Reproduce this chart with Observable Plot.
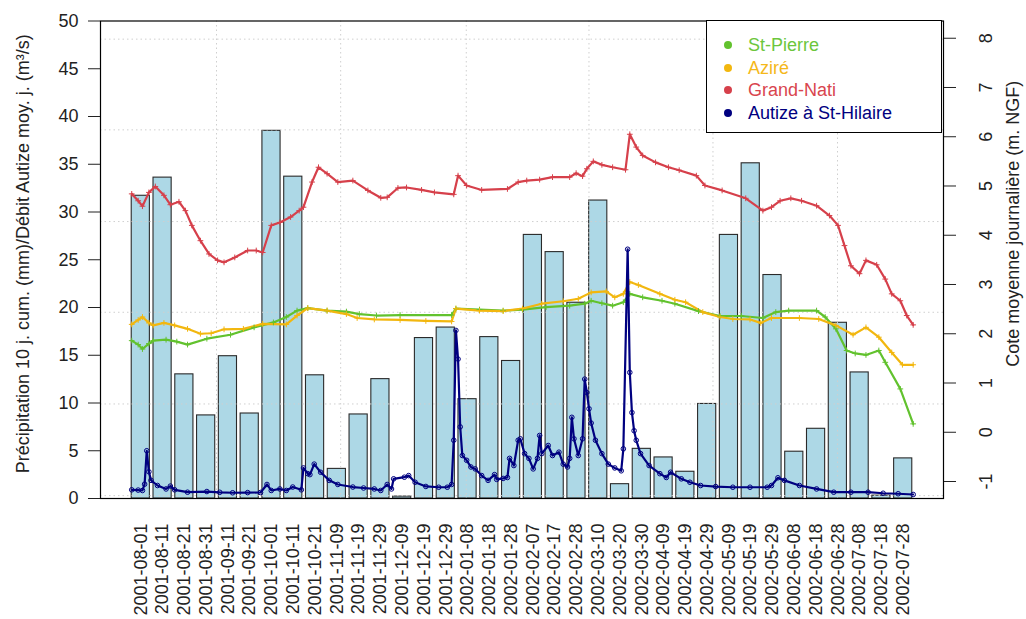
<!DOCTYPE html>
<html>
<head>
<meta charset="utf-8">
<script src="https://cdn.jsdelivr.net/npm/d3@7"></script>
<script src="https://cdn.jsdelivr.net/npm/@observablehq/plot@0.6"></script>
<style>
  html, body { margin: 0; padding: 0; background: #fff; }
  #wrap { position: relative; width: 1026px; height: 619px; font-family: "Liberation Sans", Arial, sans-serif; }
  #legend { position: absolute; left: 706px; top: 20px; width: 236px; height: 113px; background: #fff; border: 1px solid #000; box-sizing: border-box; }
  .li { position: absolute; left: 0; height: 22px; font-size: 18px; line-height: 22px; white-space: nowrap; }
  .li span.dot { position: absolute; left: 17px; top: 7px; width: 8px; height: 8px; border-radius: 50%; }
  .li span.lab { position: absolute; left: 41px; top: 0; }
</style>
</head>
<body>
<div id="wrap"></div>
<script>
// ---- Data ----
const barDates = ["2001-08-01","2001-08-11","2001-08-21","2001-08-31","2001-09-11","2001-09-21","2001-10-01","2001-10-11","2001-10-21","2001-11-09","2001-11-19","2001-11-29","2001-12-09","2001-12-19","2001-12-29","2002-01-08","2002-01-18","2002-01-28","2002-02-07","2002-02-17","2002-02-28","2002-03-10","2002-03-20","2002-03-30","2002-04-09","2002-04-19","2002-04-29","2002-05-09","2002-05-19","2002-05-29","2002-06-08","2002-06-18","2002-06-28","2002-07-08","2002-07-18","2002-07-28"];
const precip10j = [31.7,33.6,13.0,8.7,14.9,8.9,38.5,33.7,12.9,3.1,8.8,12.5,0.2,16.8,17.9,10.4,16.9,14.4,27.6,25.8,20.5,31.2,1.5,5.2,4.3,2.8,9.9,27.6,35.1,23.4,4.9,7.3,18.4,13.2,0.3,4.2];

// daily series: [days since 2001-08-01, value]
const stPierre = [[0,1.86],[3,1.78],[5,1.69],[8,1.80],[10,1.86],[16,1.88],[21,1.84],[26,1.78],[35,1.90],[46,1.98],[57,2.13],[66,2.23],[72,2.34],[77,2.47],[82,2.52],[91,2.47],[100,2.45],[106,2.40],[114,2.37],[125,2.38],[149,2.38],[151,2.51],[162,2.49],[173,2.47],[182,2.49],[193,2.54],[204,2.57],[211,2.61],[214,2.67],[219,2.62],[224,2.57],[229,2.64],[232,2.81],[238,2.74],[247,2.67],[253,2.61],[264,2.46],[274,2.36],[284,2.36],[294,2.32],[300,2.44],[306,2.47],[319,2.47],[323,2.34],[328,2.10],[333,1.66],[337,1.60],[342,1.57],[348,1.66],[351,1.42],[358,0.88],[364,0.17]];
const azire = [[0,2.19],[3,2.28],[5,2.34],[8,2.22],[10,2.17],[15,2.22],[20,2.17],[26,2.10],[32,2.00],[37,2.01],[43,2.09],[52,2.10],[61,2.20],[72,2.19],[77,2.37],[82,2.52],[91,2.47],[100,2.40],[105,2.32],[113,2.29],[125,2.28],[137,2.26],[149,2.25],[151,2.51],[162,2.47],[173,2.46],[182,2.51],[191,2.61],[201,2.66],[208,2.71],[214,2.84],[221,2.86],[225,2.74],[229,2.81],[232,3.05],[236,2.99],[246,2.81],[253,2.69],[258,2.64],[266,2.44],[274,2.34],[280,2.30],[288,2.29],[293,2.22],[298,2.32],[311,2.32],[320,2.30],[328,2.17],[336,1.98],[342,2.13],[348,1.93],[354,1.62],[359,1.37],[364,1.37]];
const grandNati = [[0,4.84],[3,4.70],[5,4.59],[8,4.87],[11,4.99],[15,4.81],[18,4.62],[22,4.68],[25,4.50],[28,4.20],[32,3.89],[36,3.62],[40,3.49],[43,3.45],[48,3.55],[54,3.69],[58,3.69],[61,3.65],[65,4.20],[69,4.26],[74,4.37],[78,4.50],[80,4.57],[84,5.08],[87,5.38],[91,5.25],[96,5.08],[103,5.11],[110,4.91],[116,4.76],[119,4.77],[124,4.96],[128,4.97],[135,4.92],[141,4.87],[150,4.83],[152,5.21],[156,5.01],[163,4.92],[175,4.94],[180,5.08],[184,5.11],[190,5.13],[196,5.18],[204,5.18],[207,5.26],[210,5.20],[212,5.35],[215,5.50],[219,5.43],[224,5.38],[230,5.33],[232,6.05],[235,5.79],[238,5.62],[244,5.48],[250,5.38],[255,5.32],[263,5.21],[267,5.01],[275,4.91],[286,4.75],[294,4.50],[298,4.57],[302,4.70],[307,4.75],[312,4.70],[319,4.60],[325,4.40],[329,4.20],[332,3.79],[335,3.38],[339,3.22],[342,3.49],[347,3.40],[351,3.11],[354,2.81],[358,2.67],[361,2.37],[364,2.18]];
const autize = [[0,0.91],[3,0.88],[5,0.84],[6,1.5],[7,5.0],[8,2.8],[9,1.9],[12,1.36],[16,1.0],[18,1.3],[20,0.91],[26,0.66],[35,0.73],[41,0.65],[47,0.6],[54,0.62],[60,0.63],[63,1.47],[65,0.84],[69,1.0],[72,0.84],[75,1.2],[79,0.91],[80,3.2],[82,2.6],[83,2.5],[85,3.6],[88,2.75],[92,1.9],[96,1.47],[103,1.2],[108,1.1],[113,1.0],[116,0.84],[119,1.47],[121,1.0],[122,2.06],[127,2.23],[129,2.4],[132,1.7],[137,1.26],[143,1.18],[147,1.18],[149,1.47],[150,6.1],[151,17.6],[152,14.6],[153,7.5],[154,4.5],[156,4.0],[158,3.3],[160,3.1],[163,2.4],[166,1.9],[169,2.5],[170,2.0],[173,2.1],[175,2.2],[176,4.2],[178,3.45],[180,6.1],[181,6.25],[183,4.7],[185,4.2],[187,3.1],[189,4.2],[190,6.6],[191,4.7],[194,5.55],[196,4.5],[199,4.85],[201,3.6],[203,3.3],[204,4.2],[205,8.5],[206,6.25],[208,4.5],[210,6.25],[211,12.5],[212,11.1],[213,9.4],[214,7.9],[216,6.1],[219,4.7],[222,3.6],[225,3.2],[228,2.9],[229,5.2],[231,26.1],[232,13.2],[233,9.0],[234,7.1],[235,6.1],[237,4.7],[241,3.45],[246,2.6],[249,2.2],[251,2.75],[256,2.06],[260,1.7],[265,1.36],[272,1.25],[280,1.18],[288,1.18],[296,1.18],[298,1.36],[301,2.17],[304,1.9],[311,1.36],[319,1.0],[327,0.66],[335,0.66],[343,0.66],[350,0.55],[357,0.5],[364,0.42]];

const leftTicks = [0,5,10,15,20,25,30,35,40,45,50];
const rightTicks = [-1,0,1,2,3,4,5,6,7,8];
const gridY = [0.3, 9.9, 19.5, 29.0, 38.6, 48.1];
const gridX = [4.87, 11.71, 18.63, 25.39, 32.22, 39.08];

const seriesNames = ["St-Pierre","Aziré","Grand-Nati","Autize à St-Hilaire"];
const seriesColors = ["#62C22E","#F2B70F","#D6404B","#000080"];
const legendText = ["#6CC63C","#F5B81A","#D9454E","#000080"];

const yTitle = "Précipitation 10 j. cum. (mm)/Débit Autize moy. j. (m³/s)";
const y2Title = "Cote moyenne journalière (m. NGF)";

// ---- Scales helpers ----
const rightDomain = [-1.345, 8.35];
const toLeft = v => (v - rightDomain[0]) / (rightDomain[1] - rightDomain[0]) * 50;
const dayToX = d => 0.2 + d * 43.05 / 364;
const barX = i => 0.2 + 1.2 * i;

const font = "Liberation Sans, Arial, sans-serif";
const levelSeries = [stPierre, azire, grandNati];

const marks = [
  Plot.rect(precip10j, {x1: (d, i) => barX(i), x2: (d, i) => barX(i) + 1, y1: 0, y2: d => d,
    fill: "lightblue", stroke: "#2a2a2a", strokeWidth: 1.1}),
  Plot.ruleY(gridY, {stroke: "#cfcfcf", strokeDasharray: "1.5,3"}),
  Plot.ruleX(gridX, {stroke: "#cfcfcf", strokeDasharray: "1.5,3"}),
  ...levelSeries.map((s, k) => Plot.line(s, {x: d => dayToX(d[0]), y: d => toLeft(d[1]), stroke: seriesColors[k], strokeWidth: 2.2})),
  ...levelSeries.map((s, k) => Plot.dot(s, {x: d => dayToX(d[0]), y: d => toLeft(d[1]), stroke: seriesColors[k], symbol: "plus", r: 2, strokeWidth: 1})),
  Plot.line(autize, {x: d => dayToX(d[0]), y: d => d[1], stroke: seriesColors[3], strokeWidth: 2.2}),
  Plot.dot(autize, {x: d => dayToX(d[0]), y: d => d[1], stroke: seriesColors[3], fill: "none", r: 2.3, strokeWidth: 1}),
  Plot.frame({stroke: "#000", strokeWidth: 1.2}),
  Plot.axisY({ticks: leftTicks, tickSize: 12, tickPadding: 10, fontSize: 18, label: null, tickFormat: d => String(d), stroke: "#222", color: "#222"}),
  Plot.axisY({ticks: rightTicks.map(toLeft), anchor: "right", tickSize: 12, tickFormat: () => "", label: null}),
  Plot.text(rightTicks, {y: d => toLeft(d), frameAnchor: "right", dx: 43, rotate: -90, text: d => String(d), fontSize: 18, fill: "#222", textAnchor: "middle", lineAnchor: "middle"}),
  Plot.text(barDates, {x: (d, i) => barX(i) + 0.5, frameAnchor: "bottom", dy: 25, rotate: -90, text: d => d, textAnchor: "end", lineAnchor: "middle", fontSize: 18, fill: "#222"}),
  Plot.text([yTitle], {frameAnchor: "left", dx: -77, dy: -6, rotate: -90, text: d => d, fontSize: 18, fill: "#222", textAnchor: "middle"}),
  Plot.text([y2Title], {frameAnchor: "right", dx: 70, dy: -36, rotate: -90, text: d => d, fontSize: 18, fill: "#222", textAnchor: "middle"})
];

const chart = Plot.plot({
  width: 1026,
  height: 619,
  marginLeft: 100,
  marginRight: 83,
  marginTop: 20.5,
  marginBottom: 121,
  x: {type: "linear", domain: [-1.52, 44.92], axis: null},
  y: {type: "linear", domain: [0, 50], axis: null},
  style: {fontFamily: font, background: "#fff", color: "#222", overflow: "visible"},
  marks
});

const wrap = document.getElementById("wrap");
wrap.appendChild(chart);

// legend (inside the plot box, top-right)
const legend = document.createElement("div");
legend.id = "legend";
seriesNames.forEach((name, k) => {
  const row = document.createElement("div");
  row.className = "li";
  row.style.top = (13 + k * 22.6) + "px";
  row.innerHTML = `<span class="dot" style="background:${seriesColors[k]}"></span><span class="lab" style="color:${legendText[k]}">${name}</span>`;
  legend.appendChild(row);
});
wrap.appendChild(legend);
</script>
</body>
</html>
